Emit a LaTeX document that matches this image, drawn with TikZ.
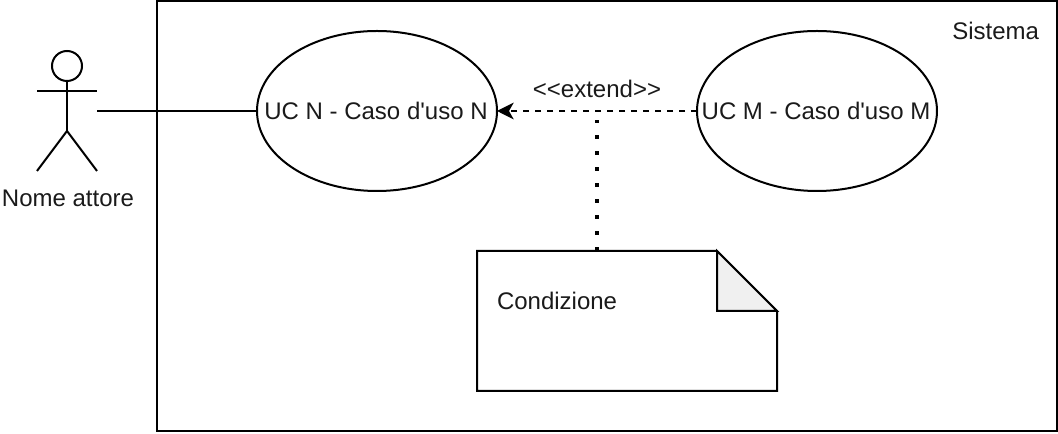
\documentclass[tikz,border=0pt]{standalone}
\usepackage{fontspec}
\usepackage{tikz}
\usetikzlibrary{arrows.meta,positioning,calc,shapes.geometric}
\newfontfamily\labelfont{Liberation Sans}
\definecolor{SoftFold}{RGB}{240,240,240}
\definecolor{LabelInk}{RGB}{26,26,26}

\begin{document}
\begin{tikzpicture}[
    x=0.75pt, y=-0.75pt,
    line width=1.5pt,
    every node/.style={font=\fontsize{18}{22}\labelfont, text=LabelInk, outer sep=0pt, inner sep=0pt},
    ucase/.style={draw, ellipse, minimum width=180pt, minimum height=120pt},
    ucname/.style={label={[font=\fontsize{18}{22}\labelfont, xshift=-0.75pt]center:#1}},
    dep/.style={-{Stealth[length=12.5pt,width=12.5pt,inset=3.5pt]}, dash pattern=on 4.5pt off 4.5pt},
    dots/.style={line width=2.4pt, dash pattern=on 2.8pt off 9.2pt, shorten >=7pt}
  ]
    \useasboundingbox (0,0) rectangle (1058,434);
    \node[draw, minimum width=675pt, minimum height=322.5pt] (sys) at (607,216) {};
    \node[anchor=east] (sysname) at (1039,31) {Sistema};

    \node[ucase, ucname={UC N - Caso d'uso N}] (ucn) at (377,111) {};
    \node[ucase, ucname={UC M - Caso d'uso M}, right=150pt of ucn] (ucm) {};

    % actor
    \node[minimum width=45pt, minimum height=90pt] (actor) at (67,111) {};
    \node[below=14.5pt of actor, xshift=0.75pt] (actorname) {Nome attore};
    \draw ($(actor.north)+(0,15)$) circle[radius=11.25pt];
    \draw ($(actor.north)+(0,30)$) -- ($(actor.north)+(0,80)$);
    \draw ($(actor.north west)+(0,40)$) -- ($(actor.north east)+(0,40)$);
    \draw (actor.south west) -- ($(actor.north)+(0,80)$) -- (actor.south east);

    \draw (actor.east) -- (ucn.west);
    \draw[dep] (ucm.west) -- coordinate (ext) (ucn.east);
    \node[above=10pt of ext] (extlabel) {<{}<extend>{}>};

    % note
    \node[minimum width=225pt, minimum height=105pt] (note) at (627,321) {};
    \draw[dots] (ext |- note.north) -- (ext);
    \draw[fill=white] (note.north west) -- ($(note.north east)+(-60,0)$) -- ($(note.north east)+(0,60)$)
      -- (note.south east) -- (note.south west) -- cycle;
    \draw[fill=SoftFold] ($(note.north east)+(-60,0)$) -- ($(note.north east)+(0,60)$) -- ($(note.north east)+(-60,60)$) -- cycle;
    \node[anchor=west] (cond) at ($(note.north west)+(20,50)$) {Condizione};
  \end{tikzpicture}
\end{document}
